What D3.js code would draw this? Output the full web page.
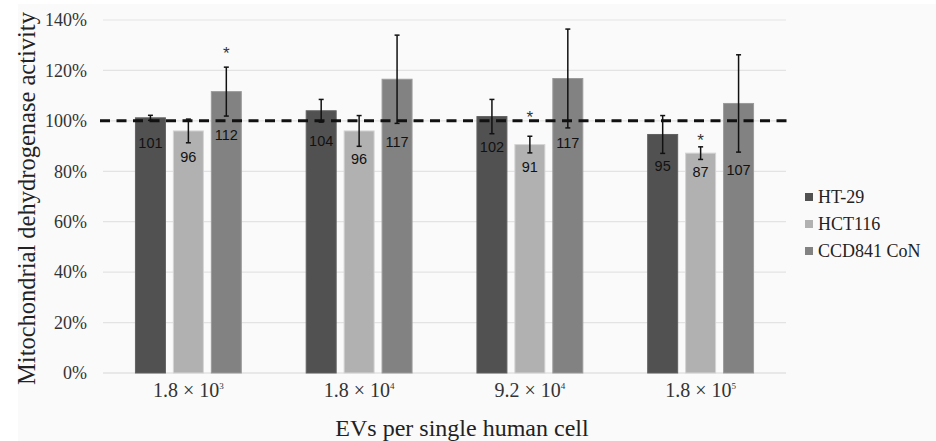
<!DOCTYPE html>
<html>
<head>
<meta charset="utf-8">
<script src="https://cdnjs.cloudflare.com/ajax/libs/d3/7.8.5/d3.min.js"></script>
<style>
  body { margin: 0; background: #fff; }
</style>
</head>
<body>
<div id="div1"></div>
<script>
// categories on the x axis (mantissa and exponent of the EV dose)
var tickBase = ["1.8", "1.8", "9.2", "1.8"];
var tickExp = ["3", "4", "4", "5"];
var series = ["HT-29", "HCT116", "CCD841 CoN"];
var colors = ["#515151", "#b1b1b1", "#828282"];

// mean activity (%) per cell line
var ht29 = [101.2, 104.0, 101.7, 94.6];
var hct116 = [96.0, 96.0, 90.6, 87.2];
var ccd841 = [111.6, 116.5, 116.8, 106.9];

// error bar half-lengths (%)
var ht29Err = [1.0, 4.5, 6.8, 7.5];
var hct116Err = [4.7, 6.1, 3.3, 2.5];
var ccd841Err = [9.7, 17.5, 19.6, 19.3];

// where the value labels sit (in % units)
var ht29LabelAt = [91.3, 92.1, 89.7, 82.1];
var hct116LabelAt = [85.7, 84.9, 81.7, 79.8];
var ccd841LabelAt = [94.4, 91.7, 91.3, 80.6];

// significance stars: category index, series index, height in %
var starCat = [0, 2, 3];
var starSeries = [2, 1, 1];
var starAt = [128.5, 103, 94];

var yTicks = [0, 20, 40, 60, 80, 100, 120, 140];
var reference = 100;

var values = [ht29, hct116, ccd841];
var errs = [ht29Err, hct116Err, ccd841Err];
var labelAt = [ht29LabelAt, hct116LabelAt, ccd841LabelAt];

var W = 936, H = 441;
var margin = {top: 20, right: 150, bottom: 68, left: 103};

var svg = d3.select("#div1")
  .append("svg")
  .attr("width", W)
  .attr("height", H);

// light panel behind the chart
svg.append("rect")
  .attr("x", 18).attr("y", 4)
  .attr("width", W - 18).attr("height", H - 4)
  .attr("fill", "#fafafa");

var y = d3.scaleLinear()
  .domain([0, 140])
  .range([H - margin.bottom, margin.top]);

var x0 = d3.scaleBand()
  .domain(d3.range(tickBase.length))
  .range([margin.left, W - margin.right])
  .paddingInner(0.38)
  .paddingOuter(0.19);

var x1 = d3.scaleBand()
  .domain(d3.range(series.length))
  .range([0, x0.bandwidth()])
  .paddingInner(0.21);

// gridlines
svg.append("g")
  .selectAll("line")
  .data(yTicks)
  .enter()
  .append("line")
  .attr("x1", margin.left)
  .attr("x2", W - margin.right)
  .attr("y1", function(d) { return y(d); })
  .attr("y2", function(d) { return y(d); })
  .attr("stroke", function(d) { return d == 0 ? "#d6d6d6" : "#e3e3e3"; })
  .attr("stroke-width", 1.2);

// y tick labels
svg.append("g")
  .selectAll("text")
  .data(yTicks)
  .enter()
  .append("text")
  .attr("x", 87)
  .attr("y", function(d) { return y(d); })
  .attr("dy", "0.35em")
  .attr("text-anchor", "end")
  .style("font-family", "'Liberation Serif', 'Times New Roman', serif")
  .style("font-size", "18px")
  .style("fill", "#333")
  .text(function(d) { return d + "%"; });

// bars, one group per category
var rows = [];
for (var c = 0; c < tickBase.length; c++) {
  for (var s = 0; s < series.length; s++) {
    rows.push({c: c, s: s, v: values[s][c], e: errs[s][c], l: labelAt[s][c]});
  }
}

svg.append("g")
  .selectAll("rect")
  .data(rows)
  .enter()
  .append("rect")
  .attr("x", function(d) { return x0(d.c) + x1(d.s); })
  .attr("y", function(d) { return y(d.v); })
  .attr("width", x1.bandwidth())
  .attr("height", function(d) { return y(0) - y(d.v); })
  .attr("fill", function(d) { return colors[d.s]; })
  .attr("stroke", function(d) { return d3.color(colors[d.s]).brighter(0.5); })
  .attr("stroke-width", 1);

// dashed 100% reference line
svg.append("line")
  .attr("x1", 100)
  .attr("x2", W - margin.right + 2)
  .attr("y1", y(reference))
  .attr("y2", y(reference))
  .attr("stroke", "#111")
  .attr("stroke-width", 3)
  .attr("stroke-dasharray", "10,6.5");

// error bars
var eb = svg.append("g")
  .selectAll("g")
  .data(rows)
  .enter()
  .append("g")
  .attr("transform", function(d) { return "translate(" + (x0(d.c) + x1(d.s) + x1.bandwidth() / 2) + ",0)"; });

eb.append("line")
  .attr("y1", function(d) { return y(d.v + d.e); })
  .attr("y2", function(d) { return y(d.v - d.e); })
  .attr("stroke", "#111").attr("stroke-width", 1.5);
eb.append("line")
  .attr("x1", -2.5).attr("x2", 2.5)
  .attr("y1", function(d) { return y(d.v + d.e); })
  .attr("y2", function(d) { return y(d.v + d.e); })
  .attr("stroke", "#111").attr("stroke-width", 1.5);
eb.append("line")
  .attr("x1", -2.5).attr("x2", 2.5)
  .attr("y1", function(d) { return y(d.v - d.e); })
  .attr("y2", function(d) { return y(d.v - d.e); })
  .attr("stroke", "#111").attr("stroke-width", 1.5);

// value labels
svg.append("g")
  .selectAll("text")
  .data(rows)
  .enter()
  .append("text")
  .attr("x", function(d) { return x0(d.c) + x1(d.s) + x1.bandwidth() / 2; })
  .attr("y", function(d) { return y(d.l); })
  .attr("dy", "0.36em")
  .attr("text-anchor", "middle")
  .style("font-family", "'Liberation Sans', Arial, sans-serif")
  .style("font-size", "14.5px")
  .style("fill", "#111")
  .text(function(d) { return Math.round(d.v); });

// stars
svg.append("g")
  .selectAll("text")
  .data(starAt)
  .enter()
  .append("text")
  .attr("x", function(d, i) { return x0(starCat[i]) + x1(starSeries[i]) + x1.bandwidth() / 2; })
  .attr("y", function(d) { return y(d); })
  .attr("dy", "0.6em")
  .attr("text-anchor", "middle")
  .style("font-family", "'Liberation Sans', Arial, sans-serif")
  .style("font-size", "17px")
  .style("fill", "#333")
  .text("*");

// x tick labels with superscript exponent
var xt = svg.append("g")
  .selectAll("text")
  .data(tickBase)
  .enter()
  .append("text")
  .attr("x", function(d, i) { return x0(i) + x0.bandwidth() / 2; })
  .attr("y", 397)
  .attr("text-anchor", "middle")
  .style("font-family", "'Liberation Serif', 'Times New Roman', serif")
  .style("font-size", "20px")
  .style("fill", "#333");
xt.append("tspan").text(function(d) { return d + " \u00d7 10"; });
xt.append("tspan")
  .attr("dy", -8)
  .style("font-size", "9px")
  .text(function(d, i) { return tickExp[i]; });

// axis titles
svg.append("text")
  .attr("x", 462)
  .attr("y", 436)
  .attr("text-anchor", "middle")
  .style("font-family", "'Liberation Serif', 'Times New Roman', serif")
  .style("font-size", "24px")
  .style("fill", "#222")
  .text("EVs per single human cell");

svg.append("text")
  .attr("transform", "translate(35," + ((y(0) + y(140)) / 2 + 2) + ") rotate(-90)")
  .attr("text-anchor", "middle")
  .style("font-family", "'Liberation Serif', 'Times New Roman', serif")
  .style("font-size", "24.5px")
  .style("fill", "#222")
  .text("Mitochondrial dehydrogenase activity");

// legend
var leg = svg.append("g")
  .selectAll("g")
  .data(series)
  .enter()
  .append("g")
  .attr("transform", function(d, i) { return "translate(805," + (197 + i * 27) + ")"; });
leg.append("rect")
  .attr("x", 0).attr("y", -4)
  .attr("width", 8).attr("height", 8)
  .attr("fill", function(d, i) { return colors[i]; });
leg.append("text")
  .attr("x", 13)
  .attr("dy", "0.34em")
  .style("font-family", "'Liberation Serif', 'Times New Roman', serif")
  .style("font-size", "18px")
  .style("fill", "#222")
  .text(function(d) { return d; });
</script>
</body>
</html>
